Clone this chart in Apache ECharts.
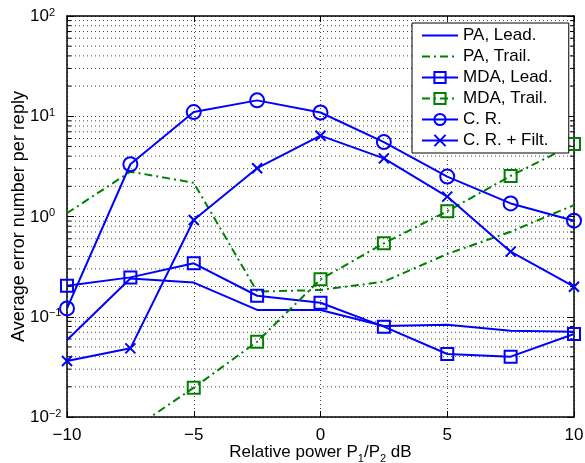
<!DOCTYPE html>
<html>
<head>
<meta charset="utf-8">
<script src="https://cdn.jsdelivr.net/npm/echarts@6/dist/echarts.min.js"></script>
<style>
  html, body { margin: 0; padding: 0; background: #fff; }
  #chart { width: 585px; height: 463px; }
</style>
</head>
<body>
<div id="chart"></div>
<script>
// relative power P1/P2 in dB
const powerDb = [-10, -7.5, -5, -2.5, 0, 2.5, 5, 7.5, 10]

const paLead = [0.0586, 0.241, 0.219, 0.117, 0.117, 0.081, 0.083, 0.0726, 0.071]
const paTrail = [1.08, 2.80, 2.17, 0.178, 0.185, 0.224, 0.423, 0.705, 1.30]
const mdaLead = [0.204, 0.247, 0.341, 0.162, 0.138, 0.0796, 0.0425, 0.040, 0.0673]
const mdaTrail = [0.003, 0.0073, 0.0196, 0.0564, 0.236, 0.540, 1.13, 2.54, 5.28]
const crData = [0.121, 3.32, 11.0, 14.4, 10.9, 5.53, 2.50, 1.35, 0.908]
const crFilt = [0.0362, 0.0484, 0.923, 3.03, 6.40, 3.80, 1.58, 0.446, 0.1995]

const seriesNames = ['PA, Lead.', 'PA, Trail.', 'MDA, Lead.', 'MDA, Trail.', 'C. R.', 'C. R. + Filt.']

// minor ticks of the log axis (2..9 in every decade)
const minorTicks = [
    0.02, 0.03, 0.04, 0.05, 0.06, 0.07, 0.08, 0.09,
    0.2, 0.3, 0.4, 0.5, 0.6, 0.7, 0.8, 0.9,
    2, 3, 4, 5, 6, 7, 8, 9,
    20, 30, 40, 50, 60, 70, 80, 90
]

const BLUE = '#0000ff'
const GREEN = '#008000'
const FONT = 'Liberation Sans'
const FS = 17
const dashDot = [8, 4, 2, 4]
const crossPath = 'path://M0,0L10,10M10,0L0,10'

const pairs = arr => powerDb.map((x, i) => [x, arr[i]])

const makeSeries = (name, arr, color, dashed, symbol, size) => ({
    name: name,
    type: 'line',
    data: pairs(arr),
    symbol: symbol || 'none',
    symbolSize: size || 0,
    showSymbol: !!symbol,
    clip: true,
    lineStyle: { color: color, width: 2, type: dashed ? dashDot : 'solid' },
    itemStyle: { color: 'rgba(0,0,0,0)', borderColor: color, borderWidth: 2 },
    emphasis: { disabled: true },
    z: 5
})

const supLabel = v => {
    const e = Math.round(Math.log10(v))
    return '{b|10}{s|' + (e < 0 ? '\u2212' + (-e) : e) + '}'
}

const gridDots = { color: '#444', width: 1, type: [1, 3] }

// dotted minor grid + short inside ticks on both sides
const minorGrid = {
    type: 'custom',
    silent: true,
    z: 1,
    xAxisIndex: 0,
    yAxisIndex: 0,
    data: minorTicks.map(v => [0, v]),
    renderItem: (params, api) => {
        const cs = params.coordSys
        const y = api.coord([0, api.value(1)])[1]
        const x0 = cs.x, x1 = cs.x + cs.width
        return {
            type: 'group',
            children: [
                { type: 'line', shape: { x1: x0, y1: y, x2: x1, y2: y }, style: { stroke: '#444', lineWidth: 1, lineDash: [1, 3] } },
                { type: 'line', shape: { x1: x0, y1: y, x2: x0 + 4, y2: y }, style: { stroke: '#000', lineWidth: 1 } },
                { type: 'line', shape: { x1: x1 - 4, y1: y, x2: x1, y2: y }, style: { stroke: '#000', lineWidth: 1 } }
            ]
        }
    }
}

let chart = echarts.init(document.getElementById('chart'), null, { renderer: 'canvas' })

let legendData = seriesNames.map((n, i) => i < 2
    ? { name: n, itemStyle: { color: 'rgba(0,0,0,0)', borderColor: 'rgba(0,0,0,0)', borderWidth: 0 } }
    : { name: n })

let option = {
    backgroundColor: '#fff',
    animation: false,
    textStyle: { fontFamily: FONT },
    grid: { left: 67, right: 11, top: 16, bottom: 46, containLabel: false, outerBoundsMode: 'none' },
    legend: {
        orient: 'vertical',
        left: 412,
        top: 23,
        padding: [4, 16, 4, 9],
        itemGap: 4,
        itemWidth: 36,
        itemHeight: 14,
        backgroundColor: '#fff',
        borderColor: '#000',
        borderWidth: 1,
        borderRadius: 0,
        textStyle: { fontFamily: FONT, fontSize: FS, color: '#000' },
        data: legendData,
        z: 20
    },
    xAxis: [
        {
            type: 'value',
            min: -10, max: 10, interval: 5,
            name: '{a|Relative power P}{sub|1}{a|/P}{sub|2}{a| dB}',
            nameLocation: 'middle',
            nameGap: 27,
            nameMoveOverlap: false,
            nameTextStyle: {
                color: '#000', fontFamily: FONT,
                rich: {
                    a: { fontSize: FS, lineHeight: 20, verticalAlign: 'top', fontFamily: FONT, color: '#000' },
                    sub: { fontSize: 11, lineHeight: 13, verticalAlign: 'top', padding: [9, 0, 0, 0], fontFamily: FONT, color: '#000' }
                }
            },
            axisLine: { show: true, onZero: false, lineStyle: { color: '#000', width: 1.5 } },
            axisTick: { show: true, inside: true, length: 6, lineStyle: { color: '#000' } },
            axisLabel: {
                fontSize: FS, color: '#000', margin: 10, fontFamily: FONT,
                formatter: v => (v < 0 ? '\u2212' + (-v) : '' + v)
            },
            splitLine: { show: true, lineStyle: gridDots }
        },
        {
            type: 'value',
            position: 'top',
            min: -10, max: 10, interval: 5,
            axisLine: { show: true, onZero: false, lineStyle: { color: '#000', width: 1.5 } },
            axisTick: { show: true, inside: true, length: 6, lineStyle: { color: '#000' } },
            axisLabel: { show: false },
            splitLine: { show: false }
        }
    ],
    yAxis: [
        {
            type: 'log',
            logBase: 10,
            min: 0.01, max: 100,
            name: 'Average error number per reply',
            nameLocation: 'middle',
            nameGap: 39,
            nameMoveOverlap: false,
            nameTextStyle: { fontSize: 18, color: '#000', fontFamily: FONT },
            axisLine: { show: true, onZero: false, lineStyle: { color: '#000', width: 1.5 } },
            axisTick: { show: true, inside: true, length: 7, lineStyle: { color: '#000' } },
            axisLabel: {
                color: '#000', margin: 37, align: 'left', fontFamily: FONT,
                formatter: supLabel,
                rich: {
                    b: { fontSize: FS, lineHeight: 18, verticalAlign: 'bottom', fontFamily: FONT, color: '#000' },
                    s: { fontSize: 11, lineHeight: 12, verticalAlign: 'top', padding: [0, 0, 15, 0], fontFamily: FONT, color: '#000' }
                }
            },
            splitLine: { show: true, lineStyle: gridDots }
        },
        {
            type: 'log',
            logBase: 10,
            min: 0.01, max: 100,
            position: 'right',
            axisLine: { show: true, onZero: false, lineStyle: { color: '#000', width: 1.5 } },
            axisTick: { show: true, inside: true, length: 7, lineStyle: { color: '#000' } },
            axisLabel: { show: false },
            splitLine: { show: false }
        }
    ],
    series: [
        minorGrid,
        makeSeries(seriesNames[0], paLead, BLUE, false),
        makeSeries(seriesNames[1], paTrail, GREEN, true),
        makeSeries(seriesNames[2], mdaLead, BLUE, false, 'rect', 12),
        makeSeries(seriesNames[3], mdaTrail, GREEN, true, 'rect', 12),
        makeSeries(seriesNames[4], crData, BLUE, false, 'circle', 14),
        makeSeries(seriesNames[5], crFilt, BLUE, false, crossPath, 10)
    ]
}

chart.setOption(option)
</script>
</body>
</html>
